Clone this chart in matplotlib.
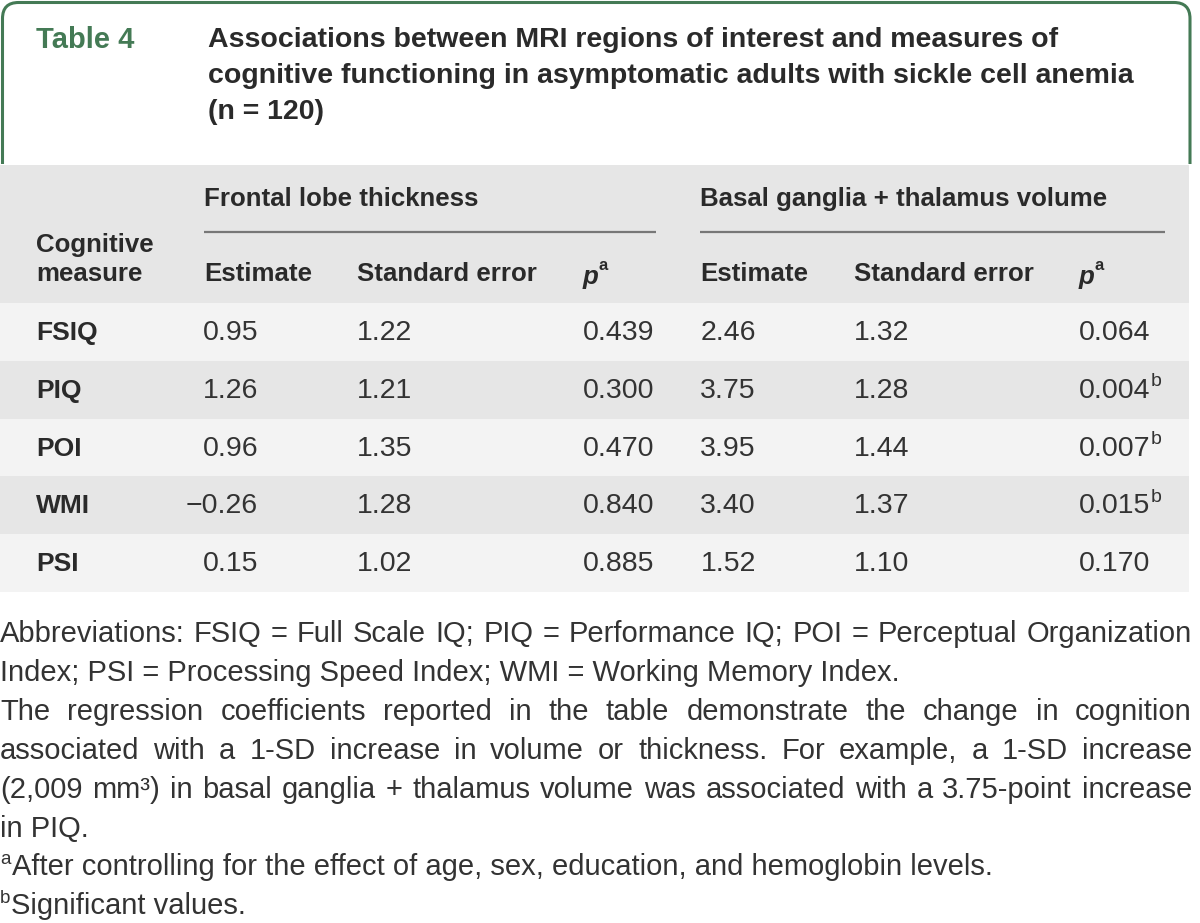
#!/usr/bin/env python3
import matplotlib as mpl
import matplotlib.pyplot as plt
from matplotlib.path import Path
from matplotlib.patches import PathPatch, Rectangle

plt.rcParams['font.family'] = ['Liberation Sans', 'DejaVu Sans']

table_label = "Table 4"
title_lines = [
    "Associations between MRI regions of interest and measures of",
    "cognitive functioning in asymptomatic adults with sickle cell anemia",
    "(n = 120)",
]
group_labels = ["Frontal lobe thickness", "Basal ganglia + thalamus volume"]
row_header = ["Cognitive", "measure"]
col_labels = ["Estimate", "Standard error", "p"]
measures = ["FSIQ", "PIQ", "POI", "WMI", "PSI"]

frontal_estimate = [0.95, 1.26, 0.96, -0.26, 0.15]
frontal_se = [1.22, 1.21, 1.35, 1.28, 1.02]
frontal_p = [0.439, 0.300, 0.470, 0.840, 0.885]

basal_estimate = [2.46, 3.75, 3.95, 3.40, 1.52]
basal_se = [1.32, 1.28, 1.44, 1.37, 1.10]
basal_p = [0.064, 0.004, 0.007, 0.015, 0.170]
basal_significant = [False, True, True, True, False]

footnote_lines = [
    "Abbreviations: FSIQ = Full Scale IQ; PIQ = Performance IQ; POI = Perceptual Organization",
    "Index; PSI = Processing Speed Index; WMI = Working Memory Index.",
    "The regression coefficients reported in the table demonstrate the change in cognition",
    "associated with a 1-SD increase in volume or thickness. For example, a 1-SD increase",
    "(2,009 mm\u00b3) in basal ganglia + thalamus volume was associated with a 3.75-point increase",
    "in PIQ.",
    "After controlling for the effect of age, sex, education, and hemoglobin levels.",
    "Significant values.",
]
footnote_justify = [True, False, True, True, True, False, False, False]
footnote_markers = ["", "", "", "", "", "", "a", "b"]

GREEN = '#447a55'
DARK = '#2a2a2a'
TEXT = '#333333'
ROW_DARK = '#e6e6e6'
ROW_LIGHT = '#f3f3f3'


def fmt(v, digits=2):
    return f"{v:.{digits}f}".replace('-', '\u2212')


def sup(ax, r, t, s, size, dy=-9, pad=1, **kw):
    # put a small superscript right after text t
    bb = t.get_window_extent(r)
    x, y = t.get_position()
    return ax.text(x + (bb.x1 - bb.x0 if t.get_ha() == 'left' else 0) + pad, y + dy, s,
                   fontsize=size, va='center', ha='left', color=t.get_color(), **kw)


def justified(ax, r, x0, x1, y, line, fontsize, **kw):
    words = line.split(' ')
    objs = [ax.text(0, y, w, ha='left', va='center', fontsize=fontsize, **kw) for w in words]
    widths = [o.get_window_extent(r).width for o in objs]
    space = 0.25 * fontsize * 100 / 72
    natural = sum(widths) + space * (len(words) - 1)
    if natural > x1 - x0:
        # too long for the line: shrink this one a little
        k = (x1 - x0) / natural
        for o in objs:
            o.set_fontsize(fontsize * k)
        widths = [w * k for w in widths]
    gap = (x1 - x0 - sum(widths)) / (len(words) - 1)
    x = x0
    for o, w in zip(objs, widths):
        o.set_x(x)
        x += w + gap


def main():
    W, H = 1200, 923
    fig = plt.figure(figsize=(12, 9.23), dpi=100)
    ax = fig.add_axes([0, 0, 1, 1])
    ax.set_xlim(0, W)
    ax.set_ylim(H, 0)
    ax.axis('off')
    r = fig.canvas.get_renderer()

    # title box, open at the bottom
    x0, x1, top, bot, rad = 2.5, 1190, 2.5, 164, 16
    verts = [(x0, bot), (x0, top + rad), (x0, top), (x0 + rad, top),
             (x1 - rad, top), (x1, top), (x1, top + rad), (x1, bot)]
    codes = [Path.MOVETO, Path.LINETO, Path.CURVE3, Path.CURVE3,
             Path.LINETO, Path.CURVE3, Path.CURVE3, Path.LINETO]
    ax.add_patch(PathPatch(Path(verts, codes), fill=False, ec=GREEN, lw=2.2))

    ax.text(36, 40, table_label, fontsize=21, fontweight='bold', color=GREEN, va='center')
    for i, line in enumerate(title_lines):
        ax.text(208, 40 + i * 36, line, fontsize=20.5, fontweight='bold', color=DARK, va='center')

    # header band and rows
    ax.add_patch(Rectangle((0, 165), 1189, 138, color=ROW_DARK, lw=0))
    row_h = 57.8
    for i in range(len(measures)):
        ax.add_patch(Rectangle((0, 303 + i * row_h), 1189, row_h,
                               color=ROW_LIGHT if i % 2 == 0 else ROW_DARK, lw=0))

    hdr = dict(fontsize=18.6, fontweight='bold', color=DARK, va='center')
    for gx, lbl, lx1 in [(204, group_labels[0], 656), (700, group_labels[1], 1165)]:
        ax.text(gx, 199, lbl, **hdr)
        ax.plot([gx, lx1], [232, 232], color='#777777', lw=1.6, solid_capstyle='butt')
    ax.text(36, 245, row_header[0], **hdr)
    ax.text(36, 274, row_header[1], **hdr)
    for xs in [(204, 357, 583), (700, 854, 1079)]:
        ax.text(xs[0], 274, col_labels[0], **hdr)
        ax.text(xs[1], 274, col_labels[1], **hdr)
        t = ax.text(xs[2], 277, col_labels[2], fontstyle='italic', **hdr)
        sup(ax, r, t, 'a', 12, dy=-11, pad=0, fontweight='bold')

    cell = dict(fontsize=20.5, color=TEXT, va='center')
    for i, m in enumerate(measures):
        y = 333 + i * row_h
        ax.text(36, y, m, fontsize=19, fontweight='bold', color=DARK, va='center')
        ax.text(258, y, fmt(frontal_estimate[i]), ha='right', **cell)
        ax.text(357, y, fmt(frontal_se[i]), ha='left', **cell)
        ax.text(583, y, fmt(frontal_p[i], 3), ha='left', **cell)
        ax.text(756, y, fmt(basal_estimate[i]), ha='right', **cell)
        ax.text(854, y, fmt(basal_se[i]), ha='left', **cell)
        t = ax.text(1079, y, fmt(basal_p[i], 3), ha='left', **cell)
        if basal_significant[i]:
            sup(ax, r, t, 'b', 14, dy=-9, pad=0)

    # footnotes
    fsize = 21
    for i, line in enumerate(footnote_lines):
        y = 634 + i * 38.9
        if footnote_justify[i]:
            justified(ax, r, 0, 1192, y, line, fsize, color=TEXT)
            continue
        x = 0
        if footnote_markers[i]:
            mk = ax.text(0, y - 8, footnote_markers[i], fontsize=13.5, color=TEXT,
                         ha='left', va='center')
            x = mk.get_window_extent(r).width + 1
        ax.text(x, y, line, ha='left', va='center', fontsize=fsize, color=TEXT)

    fig.savefig('out.png', dpi=100)


if __name__ == "__main__":
    main()
